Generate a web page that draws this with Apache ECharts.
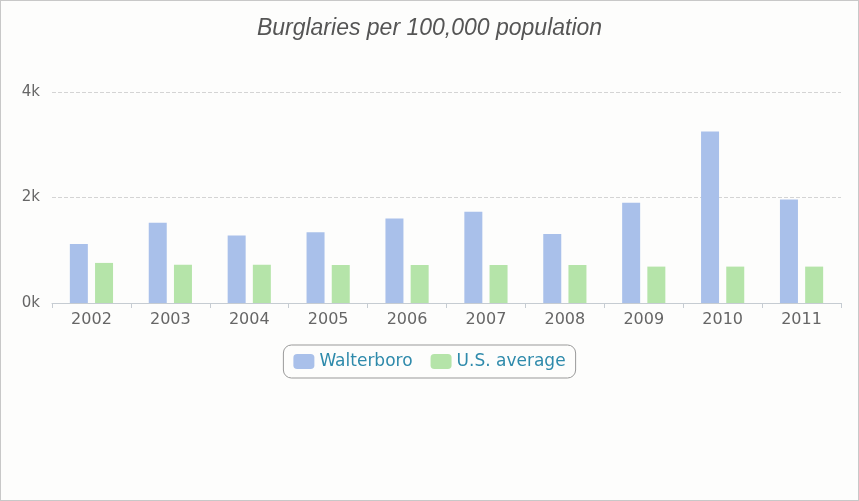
<!DOCTYPE html>
<html>
<head>
<meta charset="utf-8">
<script src="https://cdn.jsdelivr.net/npm/echarts@6/dist/echarts.min.js"></script>
<style>
	html, body { margin: 0; padding: 0; background: #fff; }
	#chart { width: 857px; height: 499px; border: 1px solid #c8c8c8; background: #fdfdfc; }
</style>
</head>
<body>
<div id="chart"></div>
<script>
// data
var years = ['2002', '2003', '2004', '2005', '2006', '2007', '2008', '2009', '2010', '2011'];
var walterboro = [1120, 1520, 1280, 1340, 1600, 1730, 1310, 1900, 3250, 1960];
var usAverage = [760, 725, 725, 720, 720, 720, 720, 690, 690, 690];

var myChart = echarts.init(document.getElementById('chart'));
var option = {
	title: {
		text: 'Burglaries per 100,000 population',
		left: 'center',
		top: 11,
		textStyle: {
			fontFamily: 'Liberation Sans',
			fontStyle: 'italic',
			fontWeight: 'normal',
			fontSize: 23,
			color: '#555'
		}
	},
	legend: {
		data: ['Walterboro', 'U.S. average'],
		left: 'center',
		top: 344,
		itemWidth: 21,
		itemHeight: 15,
		itemGap: 18,
		padding: [8, 10],
		borderColor: '#999',
		borderWidth: 1,
		borderRadius: 8,
		textStyle: {
			fontFamily: 'DejaVu Sans',
			fontSize: 17,
			color: '#2e8aab'
		}
	},
	grid: {
		left: 51,
		right: 17,
		top: 91,
		bottom: 197
	},
	xAxis: {
		type: 'category',
		data: years,
		axisLine: { lineStyle: { color: '#c6ccd2' } },
		axisTick: { show: true, length: 5, lineStyle: { color: '#c6ccd2' } },
		axisLabel: {
			fontFamily: 'DejaVu Sans',
			fontSize: 16,
			color: '#666',
			margin: 9
		}
	},
	yAxis: {
		type: 'value',
		min: 0,
		max: 4000,
		interval: 2000,
		axisLine: { show: false },
		axisTick: { show: false },
		splitLine: { lineStyle: { color: '#d4d4d4', type: 'dashed' } },
		axisLabel: {
			fontFamily: 'DejaVu Sans',
			fontSize: 15,
			color: '#666',
			margin: 12,
			padding: [8, 0, 0, 0],
			formatter: function(v) {
				return (v / 1000) + 'k';
			}
		}
	},
	series: [{
		name: 'Walterboro',
		type: 'bar',
		data: walterboro,
		barWidth: 18,
		barGap: '40%',
		itemStyle: { color: '#a9c0ea' }
	}, {
		name: 'U.S. average',
		type: 'bar',
		data: usAverage,
		barWidth: 18,
		itemStyle: { color: '#b5e4a9' }
	}]
};
myChart.setOption(option);
</script>
</body>
</html>
